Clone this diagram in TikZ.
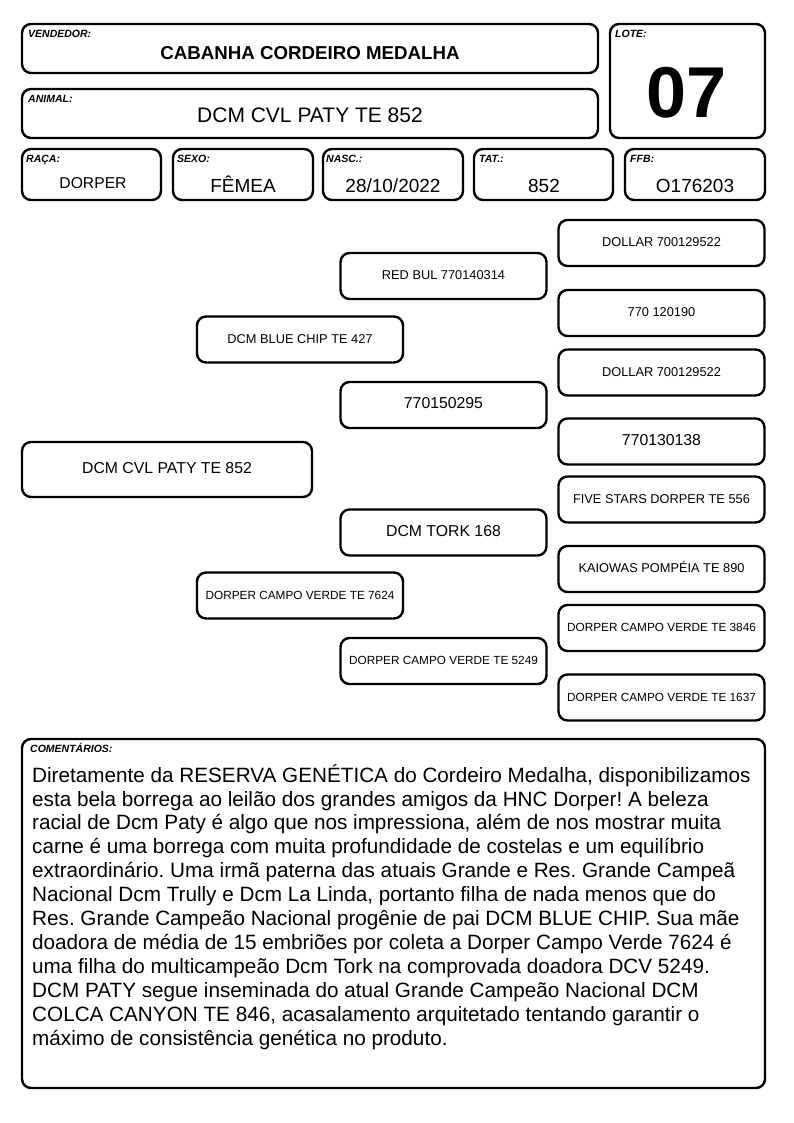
\documentclass[tikz,border=0pt]{standalone}
\usepackage{fontspec}
\setmainfont{Liberation Sans}
\usetikzlibrary{positioning}
\definecolor{inkblack}{RGB}{0, 0, 0}
\frenchspacing

\begin{document}
\begin{tikzpicture}[x=1pt, y=-1pt,
  cardbox/.style={draw=inkblack, line width=2.4pt, rounded corners=9pt, inner sep=0pt},
  fieldtag/.style={anchor=base west, inner sep=0pt, font=\fontsize{10.5}{12}\selectfont\bfseries\itshape},
  fieldval/.style={anchor=base, inner sep=0pt, font=\fontsize{19}{22}\selectfont},
  pedbox/.style={cardbox, minimum width=206pt, minimum height=46pt, text height=0.72em, text depth=0pt},
  pedbig/.style={font=\fontsize{15.8}{18}\selectfont},
  pedmid/.style={font=\fontsize{12.8}{15}\selectfont},
  pedsmall/.style={font=\fontsize{11.8}{14}\selectfont}]

  \path[use as bounding box, fill=white] (0,0) rectangle (794,1123);

  % Seller, lot and animal
  \node[cardbox, minimum width=576pt, minimum height=49pt] (seller) at (310,48.5) {};
  \node[fieldtag] (sellertag) at (28,38) {VENDEDOR:};
  \node[fieldval, font=\fontsize{18.7}{22}\selectfont\bfseries] (sellername) at (310,60) {CABANHA CORDEIRO MEDALHA};

  \node[cardbox, minimum width=155pt, minimum height=114pt] (lot) at (687.5,81) {};
  \node[fieldtag] (lottag) at (615,38) {LOTE:};
  \node[fieldval, font=\fontsize{72}{80}\selectfont\bfseries] (lotnum) at (687,118) {07};

  \node[cardbox, minimum width=576pt, minimum height=49pt] (animal) at (310,113.5) {};
  \node[fieldtag] (animaltag) at (28,103) {ANIMAL:};
  \node[fieldval, font=\fontsize{21}{24}\selectfont] (animalname) at (310,123) {DCM CVL PATY TE 852};

  % Data row
  \node[cardbox, minimum width=139pt, minimum height=51pt] (breed) at (91.5,174.5) {};
  \node[fieldtag] (breedtag) at (26,163) {RAÇA:};
  \node[fieldval, font=\fontsize{15.7}{18}\selectfont] (breedval) at (93,189) {DORPER};

  \node[cardbox, minimum width=140pt, minimum height=51pt] (sex) at (243,174.5) {};
  \node[fieldtag] (sextag) at (177,163) {SEXO:};
  \node[fieldval] (sexval) at (243,193) {FÊMEA};

  \node[cardbox, minimum width=140pt, minimum height=51pt] (birth) at (393,174.5) {};
  \node[fieldtag] (birthtag) at (326,163) {NASC.:};
  \node[fieldval] (birthval) at (393,193) {28/10/2022};

  \node[cardbox, minimum width=139pt, minimum height=51pt] (tattoo) at (543.5,174.5) {};
  \node[fieldtag] (tattootag) at (479,163) {TAT.:};
  \node[fieldval] (tattooval) at (544,193) {852};

  \node[cardbox, minimum width=140pt, minimum height=51pt] (ffb) at (695,174.5) {};
  \node[fieldtag] (ffbtag) at (630,163) {FFB:};
  \node[fieldval] (ffbval) at (695,193) {O176203};

  % Pedigree: animal, parents, grandparents, great-grandparents
  \node[pedbox, pedbig, minimum width=290pt, minimum height=55pt] (paty) at (167,469.5) {DCM CVL PATY TE 852};

  \node[pedbox, pedmid] (sire) at (300,339.5) {DCM BLUE CHIP TE 427};
  \node[pedbox, pedsmall] (dam) at (300,595.5) {DORPER CAMPO VERDE TE 7624};

  \node[pedbox, pedmid] (siresire) at (443.5,276) {RED BUL 770140314};
  \node[pedbox, pedbig] (siredam) at (443.5,405) {770150295};
  \node[pedbox, pedbig] (damsire) at (443.5,532.5) {DCM TORK 168};
  \node[pedbox, pedsmall] (damdam) at (443.5,661) {DORPER CAMPO VERDE TE 5249};

  \node[pedbox, pedmid] (sss) at (661.5,243) {DOLLAR 700129522};
  \node[pedbox, pedmid] (ssd) at (661.5,313) {770 120190};
  \node[pedbox, pedmid] (sds) at (661.5,372.5) {DOLLAR 700129522};
  \node[pedbox, pedbig] (sdd) at (661.5,441.5) {770130138};
  \node[pedbox, pedmid] (dss) at (661.5,499.5) {FIVE STARS DORPER TE 556};
  \node[pedbox, pedmid] (dsd) at (661.5,569) {KAIOWAS POMPÉIA TE 890};
  \node[pedbox, pedsmall] (dds) at (661.5,628) {DORPER CAMPO VERDE TE 3846};
  \node[pedbox, pedsmall] (ddd) at (661.5,697.5) {DORPER CAMPO VERDE TE 1637};

  % Comments
  \node[cardbox, minimum width=743pt, minimum height=349pt] (notes) at (393.5,913.5) {};
  \node[fieldtag] (notestag) at (30,752) {COMENTÁRIOS:};
  \node[anchor=base west, inner sep=0pt, align=left, font=\fontsize{20.7}{23.9}\selectfont] (notestext) at (32,1045) {
    Diretamente da RESERVA GENÉTICA do Cordeiro Medalha, disponibilizamos\\
    esta bela borrega ao leilão dos grandes amigos da HNC Dorper! A beleza\\
    racial de Dcm Paty é algo que nos impressiona, além de nos mostrar muita\\
    carne é uma borrega com muita profundidade de costelas e um equilíbrio\\
    extraordinário. Uma irmã paterna das atuais Grande e Res. Grande Campeã\\
    Nacional Dcm Trully e Dcm La Linda, portanto filha de nada menos que do\\
    Res. Grande Campeão Nacional progênie de pai DCM BLUE CHIP. Sua mãe\\
    doadora de média de 15 embriões por coleta a Dorper Campo Verde 7624 é\\
    uma filha do multicampeão Dcm Tork na comprovada doadora DCV 5249.\\
    DCM PATY segue inseminada do atual Grande Campeão Nacional DCM\\
    COLCA CANYON TE 846, acasalamento arquitetado tentando garantir o\\
    máximo de consistência genética no produto.
  };
\end{tikzpicture}
\end{document}
